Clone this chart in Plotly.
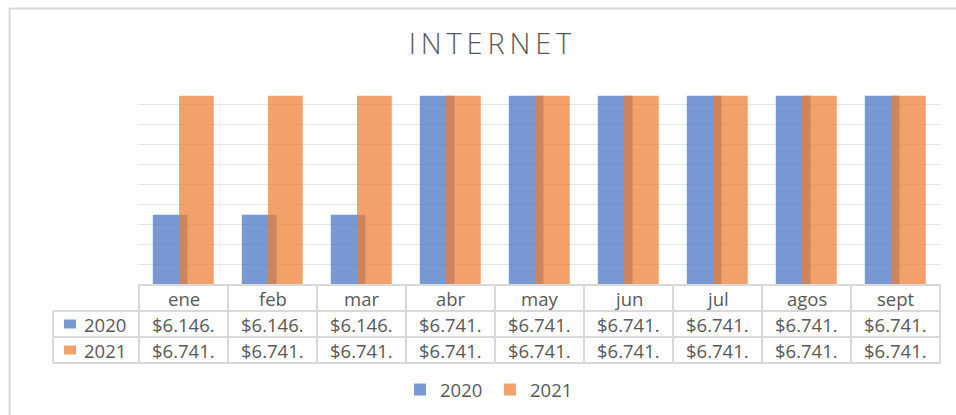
import plotly.graph_objects as go

months = ["ene", "feb", "mar", "abr", "may", "jun", "jul", "agos", "sept"]
series_names = ["2020", "2021"]
values_2020 = [6146, 6146, 6146, 6741, 6741, 6741, 6741, 6741, 6741]
values_2021 = [6741, 6741, 6741, 6741, 6741, 6741, 6741, 6741, 6741]
colors = ["rgba(68,114,196,0.72)", "rgba(237,125,49,0.72)"]

FONT = "Open Sans"
TXT = "#595959"
LINE = "#D9D9D9"
FS = 18.5


def money(v):
    # Excel cell shows the value cut off after the thousands dot
    return "$" + f"{v:,}".replace(",", ".") + "."


fig = go.Figure()
for name, vals, col, off in zip(series_names, [values_2020, values_2021], colors, [-0.345, -0.05]):
    fig.add_trace(go.Bar(x=months, y=vals, name=name, marker_color=col,
                         marker_line_width=0, width=0.39, offset=off))

# plot area: x 138..941 px, y 84..284 px
def py(p):
    return (284 - p) / 200

def px(p):
    return (p - 138) / 803

shapes = []
annotations = []

# table grid
for i in range(len(months) + 1):
    shapes.append(dict(type="line", xref="x", yref="paper", x0=i - 0.5, x1=i - 0.5,
                       y0=py(284), y1=py(363), line=dict(color=LINE, width=2)))
shapes.append(dict(type="line", xref="paper", yref="paper", x0=px(53), x1=px(53),
                   y0=py(311), y1=py(363), line=dict(color=LINE, width=2)))
for yy in [311, 337, 363]:
    shapes.append(dict(type="line", xref="paper", yref="paper", x0=px(53), x1=px(941),
                       y0=py(yy), y1=py(yy), line=dict(color=LINE, width=2)))

# header row
for m in months:
    annotations.append(dict(x=m, y=py(298), xref="x", yref="paper", text=m, showarrow=False,
                            xanchor="center", yanchor="middle",
                            font=dict(family=FONT, size=FS, color=TXT)))

# data rows
for r, (name, vals, col) in enumerate(zip(series_names, [values_2020, values_2021], colors)):
    yc = py(324 + 26 * r)
    for m, v in zip(months, vals):
        annotations.append(dict(x=m, y=yc, xref="x", yref="paper", text=money(v), showarrow=False,
                                xanchor="center", yanchor="middle",
                                font=dict(family=FONT, size=FS, color=TXT)))
    annotations.append(dict(x=px(82), y=yc, xref="paper", yref="paper", text=name, showarrow=False,
                            xanchor="left", yanchor="middle",
                            font=dict(family=FONT, size=FS, color=TXT)))
    shapes.append(dict(type="rect", xref="paper", yref="paper", x0=px(64), x1=px(76),
                       y0=yc - 4.5 / 200, y1=yc + 4.5 / 200, fillcolor=col, line_width=0))

# chart area border
shapes.append(dict(type="line", xref="paper", yref="paper", x0=px(9), x1=px(960),
                   y0=py(8.5), y1=py(8.5), line=dict(color=LINE, width=2)))
shapes.append(dict(type="line", xref="paper", yref="paper", x0=px(9.5), x1=px(9.5),
                   y0=py(8), y1=py(420), line=dict(color=LINE, width=2)))

title_text = "\u2009".join("INTERNET")

fig.update_layout(
    width=956, height=415,
    margin=dict(l=138, r=15, t=84, b=131, autoexpand=False),
    paper_bgcolor="white", plot_bgcolor="white",
    barmode="overlay",
    title=dict(text=title_text, xref="container", x=490 / 956, xanchor="center",
               yref="container", y=1 - 44 / 415, yanchor="middle",
               font=dict(family=FONT, size=29, color=TXT, weight=300)),
    font=dict(family=FONT, color=TXT),
    showlegend=True,
    legend=dict(orientation="h", xref="container", x=400 / 956, xanchor="left",
                yref="container", y=(415 - 390) / 415, yanchor="middle",
                font=dict(family=FONT, size=FS, color=TXT),
                entrywidth=45, entrywidthmode="pixels", itemwidth=30),
    shapes=shapes,
    annotations=annotations,
)
fig.update_yaxes(range=[5800, 6800], dtick=100, showticklabels=False, gridcolor="#E6E6E6",
                 gridwidth=1, zeroline=False, showline=False)
fig.update_xaxes(showticklabels=False, showline=True, linecolor=LINE, linewidth=2, ticks="")

fig.write_html("out.html", config={"displayModeBar": False},
               post_script="document.body.style.margin='0';")
